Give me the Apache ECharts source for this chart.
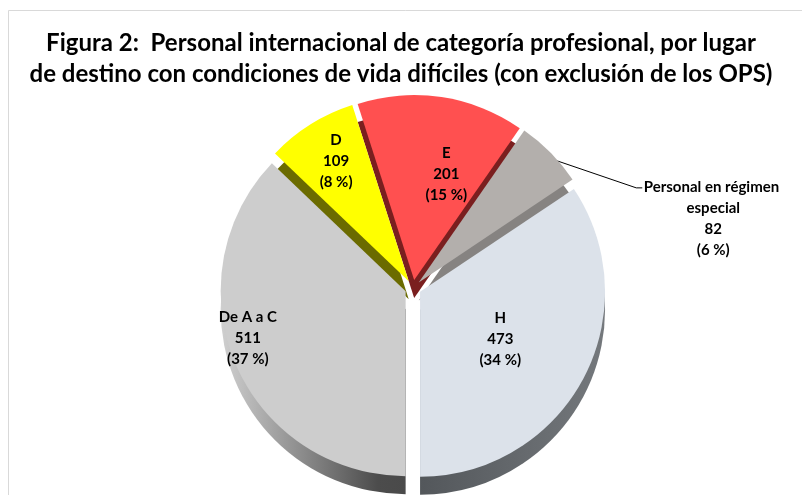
<!DOCTYPE html>
<html>
<head>
<meta charset="utf-8">
<script src="https://cdn.jsdelivr.net/npm/echarts@6/dist/echarts.min.js"></script>
<style>
html,body{margin:0;padding:0;background:#fff;}
#chart{width:802px;height:495px;}
</style>
</head>
<body>
<div id="chart"></div>
<script>
// Data
var categories = ['De A a C', 'D', 'E', 'Personal en régimen especial', 'H'];
var values = [511, 109, 201, 82, 473];
var titleLines = ['Figura 2:  Personal internacional de categoría profesional, por lugar',
                  'de destino con condiciones de vida difíciles (con exclusión de los OPS)'];

// Styles (kept separate from data)
var topColors = ['#CDCDCD', '#FFFF00', '#FF5050', '#B3AFAC', '#DCE2EA'];
var sideColors = [
  {type:'linear', x:0, y:0, x2:1, y2:0, colorStops:[{offset:0,color:'#d0d0d0'},{offset:0.45,color:'#8a8a8a'},{offset:0.85,color:'#4c4c4c'},{offset:1,color:'#4a4a4a'}]},
  '#6b6b00', '#7a1f1f', '#868381',
  {type:'linear', x:0, y:0, x2:1, y2:0, colorStops:[{offset:0,color:'#53575b'},{offset:1,color:'#74787c'}]}
];
// label shifts (relative, in px) from the library's default label position
var labelShift = [[-70, 9], [-22, -39], [18, -11], [137, 74], [-4, 2]];
var LINE_H = 21;

var CX = 413, CY = 288, R = 185, DEPTH = 18;
var font = 'Lato, "Open Sans", sans-serif';

var chart = echarts.init(document.getElementById('chart'));

var topData = categories.map(function (c, i) {
  var item = {
    name: c, value: values[i], selected: true,
    itemStyle: { color: topColors[i] }
  };
  if (i === 3) {
    item.label = { position: 'outside', width: 150, overflow: 'break' };
    item.labelLine = { show: true, length: 12, length2: 12, lineStyle: { color: '#000', width: 1 } };
  }
  return item;
});
var sideData = categories.map(function (c, i) {
  return { name: c, value: values[i], selected: true, itemStyle: { color: sideColors[i] } };
});

chart.setOption({
  animation: false,
  backgroundColor: '#fff',
  title: {
    text: titleLines.join('\n'),
    left: 'center', top: 23,
    textStyle: { fontFamily: font, fontSize: 24, fontWeight: 'bold', color: '#000', lineHeight: 31 }
  },
  graphic: [{
    type: 'rect', silent: true,
    shape: { x: 8.5, y: 10.5, width: 900, height: 600 },
    style: { fill: 'none', stroke: '#d9d9d9', lineWidth: 1 }
  }],
  series: [{
    type: 'pie', silent: true, z: 1,
    center: [CX, CY + DEPTH], radius: R,
    startAngle: -90, clockwise: true,
    selectedMode: 'multiple', selectedOffset: 8,
    label: { show: false }, labelLine: { show: false },
    emphasis: { disabled: true },
    data: sideData
  }, {
    type: 'pie', z: 2,
    center: [CX, CY], radius: R,
    startAngle: -90, clockwise: true,
    selectedMode: 'multiple', selectedOffset: 8,
    percentPrecision: 0,
    emphasis: { disabled: true },
    itemStyle: { borderWidth: 0 },
    label: {
      show: true, position: 'inside',
      formatter: '{b}\n{c}\n({d} %)',
      fontFamily: font, fontSize: 15, fontWeight: 'bold', color: '#000', lineHeight: LINE_H
    },
    labelLine: { show: false },
    labelLayout: function (p) {
      var s = labelShift[p.dataIndex];
      var o = { dx: s[0], dy: s[1] };
      if (p.dataIndex === 3) {
        var r = p.labelRect, h = p.rect;
        var tx = r.x + s[0];
        var ty = r.y + r.height / 2 + s[1] - 1.5 * LINE_H + 1;
        o.align = 'center';
        o.labelLinePoints = [
          [h.x + h.width * 0.9, h.y + h.height * 0.2],
          [tx - 77, ty],
          [tx - 71, ty]
        ];
      }
      return o;
    },
    data: topData
  }]
});
</script>
</body>
</html>
